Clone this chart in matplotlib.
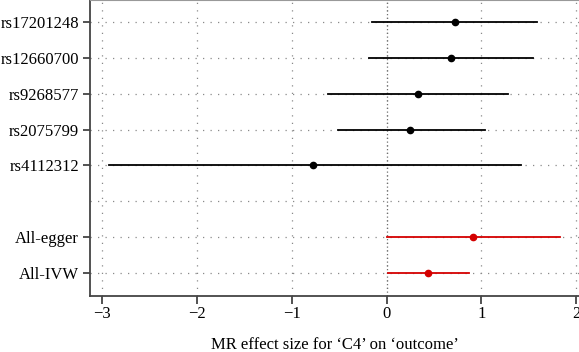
import matplotlib
matplotlib.use("Agg")
import matplotlib.pyplot as plt

# 행 순서: 위에서 아래로
labels = ["rs17201248", "rs12660700", "rs9268577", "rs2075799", "rs4112312",
          "", "All-egger", "All-IVW"]
estimate = [0.72, 0.675, 0.33, 0.25, -0.77, None, 0.915, 0.44]
lower = [-0.15, -0.18, -0.62, -0.51, -2.93, None, 0.0, 0.02]
upper = [1.59, 1.54, 1.28, 1.04, 1.42, None, 1.83, 0.87]
colors = ["black"] * 5 + [None] + ["#d40000", "#d40000"]
xticks = [-3, -2, -1, 0, 1, 2]

plt.rcParams["font.family"] = ["Liberation Serif", "DejaVu Serif"]

fig = plt.figure(figsize=(5.79, 3.52), dpi=100)
ax = fig.add_axes([0.1554, 0.159, 0.8446, 0.841])

n = len(labels)
ypos = list(range(n, 0, -1))

grid_kw = dict(color="#8a8a8a", linewidth=0.9, linestyle=(0, (1, 5)), zorder=0)
for y in ypos:
    ax.axhline(y, **grid_kw)
for x in xticks:
    ax.axvline(x, **grid_kw)
ax.axvline(0, color="#707070", linewidth=0.9, linestyle=(0, (1, 2)), zorder=0)

for y, est, lo, hi, c in zip(ypos, estimate, lower, upper, colors):
    if est is None:
        continue
    ax.plot([lo, hi], [y, y], color=c, linewidth=1.3, zorder=2)
    ax.plot(est, y, "o", color=c, markersize=4.5, zorder=3)

ax.set_xlim(-3.127, 2.03)
ax.set_ylim(0.359, 8.613)
ax.set_xticks(xticks)
ax.set_xticklabels(["\u22123", "\u22122", "\u22121", "0", "1", "2"])
# 빈 행에는 눈금 없음
tick_rows = [y for y, lab in zip(ypos, labels) if lab]
ax.set_yticks(tick_rows)
ax.set_yticklabels([lab for lab in labels if lab])
ax.tick_params(axis="both", labelsize=12, length=5, width=1.3, color="#444444")
ax.tick_params(axis="y", pad=3)
ax.tick_params(axis="x", pad=1, length=6)

for side in ["left", "bottom"]:
    ax.spines[side].set_color("#444444")
    ax.spines[side].set_linewidth(1.3)
ax.spines["top"].set_color("#999999")
ax.spines["top"].set_linewidth(0.8)
ax.spines["right"].set_visible(False)

ax.set_xlabel("MR effect size for \u2018C4\u2019 on \u2018outcome\u2019", fontsize=12, labelpad=11)

fig.savefig("out.png", dpi=100)
